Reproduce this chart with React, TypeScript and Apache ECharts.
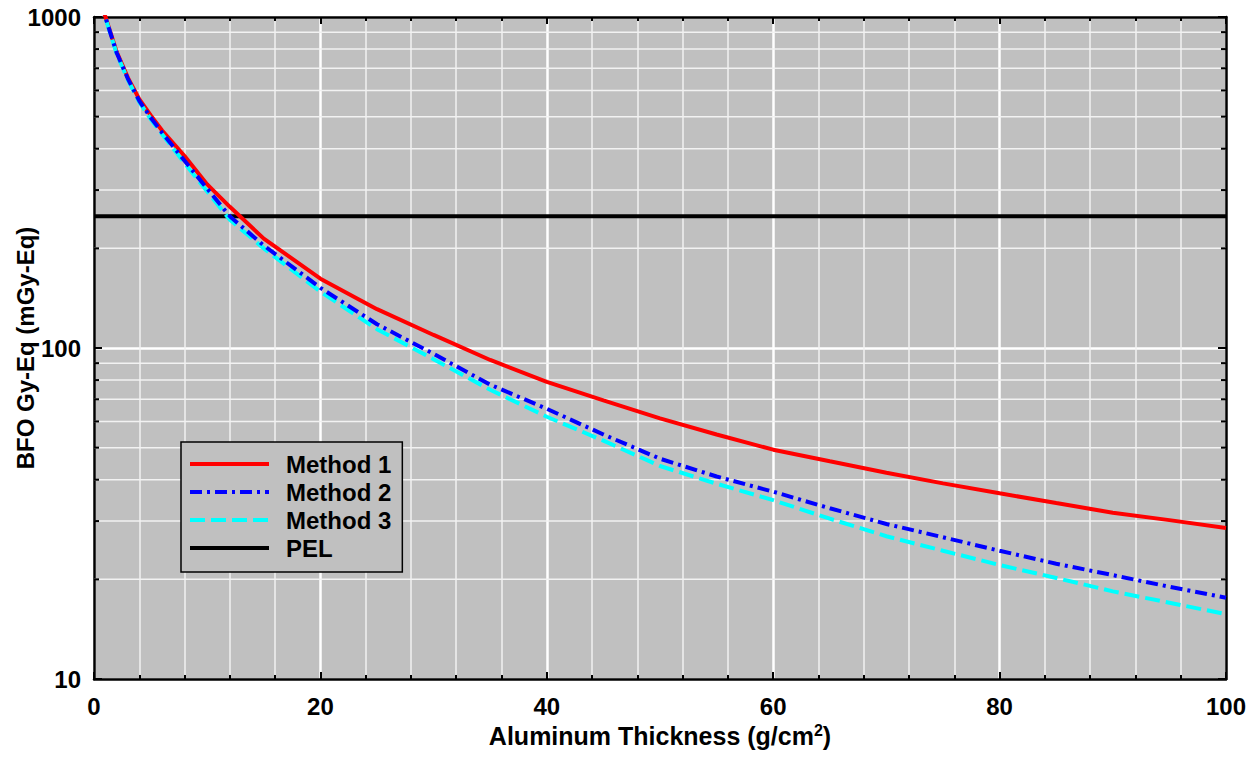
import React, { useEffect, useRef } from "react";
import * as echarts from "echarts";

const thickness = [0, 1, 2, 3, 4, 5, 6, 8, 10, 12, 15, 20, 25, 30, 35, 40, 45, 50, 55, 60, 65, 70, 75, 80, 85, 90, 95, 100];
const method1 = [1300, 1005, 785, 655, 565, 505, 455, 380, 312, 267, 214, 162, 131, 109.5, 92, 79, 69.5, 61.3, 54.8, 49.3, 45.5, 42, 39, 36.4, 34, 31.8, 30.2, 28.6];
const method2 = [1300, 1000, 780, 650, 558, 497, 448, 368, 303, 250, 204, 152, 118, 96, 77.5, 65.5, 54.8, 46.3, 40.9, 36.8, 32.8, 29.4, 26.8, 24.4, 22.3, 20.6, 19, 17.6];
const method3 = [1300, 995, 775, 645, 553, 492, 443, 362, 297, 244, 200, 148, 114, 92.5, 74.8, 62, 52.5, 44, 38.9, 34.7, 30.5, 27, 24.4, 22.1, 20.2, 18.4, 17, 15.7];
const pelValue = 250;
const pelX = [0, 100];
const yMinorValues = [20, 30, 40, 50, 60, 70, 80, 90, 200, 300, 400, 500, 600, 700, 800, 900];
const seriesNames = ["Method 1", "Method 2", "Method 3", "PEL"];

const FONT = "'Liberation Sans', Arial, Helvetica, sans-serif";

export default function App() {
  const ref = useRef<HTMLDivElement>(null);
  useEffect(() => {
    if (!ref.current) return;
    const chart = echarts.init(ref.current, undefined, { renderer: "svg" });
    const pair = (ys: number[]) => thickness.map((x, i) => [x, ys[i]]);
    const tickStyle = { color: "#000", width: 2 };
    const option: any = {
      animation: false,
      backgroundColor: "#ffffff",
      textStyle: { fontFamily: FONT },
      grid: {
        left: 94,
        top: 17,
        right: 34,
        bottom: 78,
        containLabel: false,
        outerBoundsMode: "none",
        show: true,
        backgroundColor: "#c0c0c0",
        borderColor: "#000",
        borderWidth: 0,
      },
      legend: {
        data: seriesNames,
        orient: "vertical",
        left: 181,
        top: 442,
        itemWidth: 79,
        itemHeight: 14,
        itemGap: 4,
        padding: [10, 11, 12, 7],
        backgroundColor: "#c0c0c0",
        borderColor: "#000",
        borderWidth: 1.5,
        borderRadius: 0,
        itemStyle: { opacity: 0 },
        lineStyle: { width: 4 },
        textStyle: {
          fontFamily: FONT,
          fontWeight: "bold",
          fontSize: 24,
          color: "#000",
          padding: [0, 0, 0, 12],
        },
      },
      xAxis: [
        {
          type: "value",
          position: "bottom",
          min: 0,
          max: 100,
          interval: 20,
          name: "Aluminum Thickness (g/cm{sup|2})",
          nameLocation: "middle",
          nameGap: 43,
          nameMoveOverlap: false,
          nameTextStyle: {
            fontFamily: FONT,
            fontWeight: "bold",
            fontSize: 25,
            color: "#000",
            rich: {
              sup: { fontFamily: FONT, fontWeight: "bold", fontSize: 16, color: "#000", padding: [0, 0, 12, 0] },
            },
          },
          axisLine: { show: true, onZero: false, lineStyle: { color: "#000", width: 2.5 } },
          axisTick: { show: true, inside: true, length: 7, lineStyle: tickStyle },
          minorTick: { show: true, splitNumber: 5, length: 4, lineStyle: tickStyle },
          axisLabel: { margin: 15, fontFamily: FONT, fontWeight: "bold", fontSize: 24, color: "#000" },
          splitLine: { show: true, lineStyle: { color: "#ffffff", width: 2.5 } },
          minorSplitLine: { show: true, lineStyle: { color: "#f2f2f2", width: 1.5 } },
        },
        {
          type: "value",
          position: "top",
          min: 0,
          max: 100,
          interval: 20,
          axisLine: { show: true, onZero: false, lineStyle: { color: "#000", width: 2.5 } },
          axisTick: { show: true, inside: true, length: 7, lineStyle: tickStyle },
          minorTick: { show: true, splitNumber: 5, length: 4, lineStyle: tickStyle },
          axisLabel: { show: false },
          splitLine: { show: false },
        },
      ],
      yAxis: [
        {
          type: "log",
          logBase: 10,
          position: "left",
          min: 10,
          max: 1000,
          name: "BFO Gy-Eq (mGy-Eq)",
          nameLocation: "middle",
          nameGap: 57,
          nameMoveOverlap: false,
          nameTextStyle: { fontFamily: FONT, fontWeight: "bold", fontSize: 24, color: "#000" },
          axisLine: { show: true, onZero: false, lineStyle: { color: "#000", width: 2.5 } },
          axisTick: { show: true, inside: true, length: 8, lineStyle: tickStyle },
          axisLabel: {
            margin: 13,
            fontFamily: FONT,
            fontWeight: "bold",
            fontSize: 24,
            color: "#000",
            showMinLabel: true,
            showMaxLabel: true,
            formatter: (v: number) => String(Math.round(v)),
          },
          splitLine: { show: true, lineStyle: { color: "#ffffff", width: 2.5 } },
        },
        {
          type: "log",
          logBase: 10,
          position: "right",
          min: 10,
          max: 1000,
          axisLine: { show: true, onZero: false, lineStyle: { color: "#000", width: 2.5 } },
          axisTick: { show: true, inside: true, length: 8, lineStyle: tickStyle },
          axisLabel: { show: false },
          splitLine: { show: false },
        },
      ],
      series: [
        {
          type: "custom",
          name: "minor",
          z: 1,
          silent: true,
          xAxisIndex: 0,
          yAxisIndex: 0,
          data: yMinorValues.map((v) => [0, v]),
          encode: { x: 0, y: 1 },
          renderItem: (params: any, api: any) => {
            const v = api.value(1);
            const l = api.coord([0, v]);
            const r = api.coord([100, v]);
            return {
              type: "group",
              children: [
                {
                  type: "line",
                  shape: { x1: l[0], y1: l[1], x2: r[0], y2: r[1] },
                  style: { stroke: "#f2f2f2", lineWidth: 1.5 },
                },
                {
                  type: "line",
                  shape: { x1: l[0], y1: l[1], x2: l[0] + 5, y2: l[1] },
                  style: { stroke: "#000", lineWidth: 2 },
                },
                {
                  type: "line",
                  shape: { x1: r[0] - 5, y1: r[1], x2: r[0], y2: r[1] },
                  style: { stroke: "#000", lineWidth: 2 },
                },
              ],
            };
          },
        },
        {
          name: "PEL",
          type: "line",
          symbol: "none",
          data: pelX.map((x) => [x, pelValue]),
          lineStyle: { color: "#000", width: 4 },
          itemStyle: { color: "#000" },
          z: 3,
        },
        {
          name: "Method 1",
          type: "line",
          symbol: "none",
          data: pair(method1),
          lineStyle: { color: "#ff0000", width: 4 },
          itemStyle: { color: "#ff0000" },
          z: 4,
        },
        {
          name: "Method 3",
          type: "line",
          symbol: "none",
          data: pair(method3),
          lineStyle: { color: "#00ffff", width: 4, type: [15, 6] },
          itemStyle: { color: "#00ffff" },
          z: 5,
        },
        {
          name: "Method 2",
          type: "line",
          symbol: "none",
          data: pair(method2),
          lineStyle: { color: "#0000ff", width: 4, type: [12, 5, 3, 5] },
          itemStyle: { color: "#0000ff" },
          z: 6,
        },
      ],
    };
    chart.setOption(option);
    return () => chart.dispose();
  }, []);
  return (
    <div
      ref={ref}
      style={{ position: "absolute", left: 0, top: 0, width: 1260, height: 757 }}
    />
  );
}
